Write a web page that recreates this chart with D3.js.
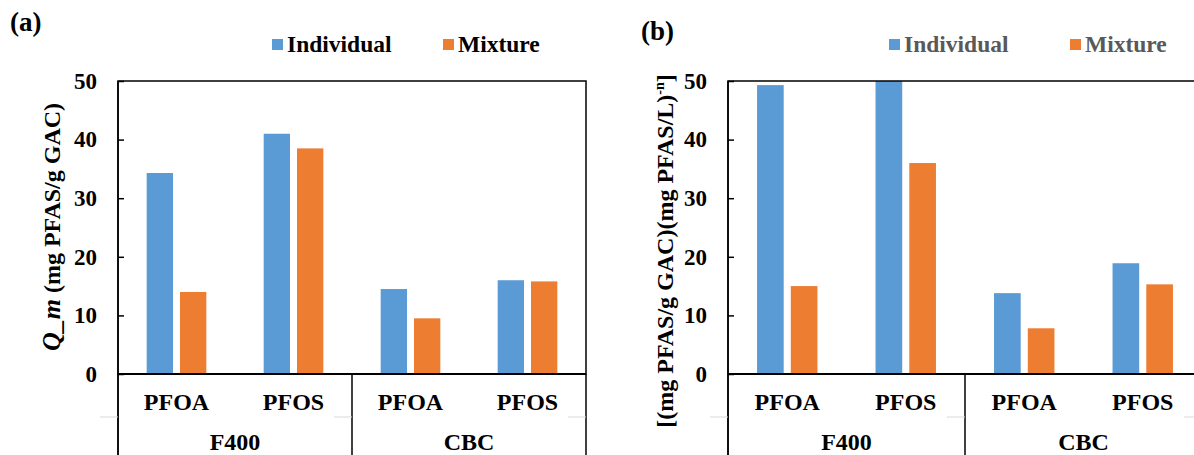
<!DOCTYPE html>
<html>
<head>
<meta charset="utf-8">
<script src="https://cdn.jsdelivr.net/npm/d3@7"></script>
<style>
  html, body { margin: 0; padding: 0; background: #fff; }
  svg { display: block; }
  svg text { font-family: "Liberation Serif", "Times New Roman", serif !important; font-weight: bold; }
</style>
</head>
<body>
<svg id="chart" width="1194" height="455"></svg>
<script>
// ---- data ----
const categories = ["PFOA", "PFOS", "PFOA", "PFOS"];
const groups = ["F400", "CBC"];
const seriesNames = ["Individual", "Mixture"];
const yTicks = [0, 10, 20, 30, 40, 50];
// panel (a): Q_m
const qmIndividual = [34.3, 41.0, 14.5, 16.0];
const qmMixture    = [14.0, 38.5, 9.5, 15.8];
// panel (b): K_F
const kfIndividual = [49.3, 50.0, 13.8, 18.9];
const kfMixture    = [15.0, 36.0, 7.8, 15.3];

const colors = { Individual: "#5b9bd5", Mixture: "#ed7d31" };
const FONT = "'Liberation Serif', 'Times New Roman', serif";

const svg = d3.select("#chart");

function panel(cfg) {
  const g = svg.append("g");
  const x0 = d3.scaleBand().domain(d3.range(categories.length)).range([cfg.left, cfg.right]).paddingInner(0).paddingOuter(0);
  const x1 = d3.scaleBand().domain(seriesNames).range([0, x0.bandwidth()]).paddingInner(0.21).paddingOuter(0.86);
  const y = d3.scaleLinear().domain([0, 50]).range([cfg.bottom, cfg.top]);

  // bars
  const vals = { Individual: cfg.ind, Mixture: cfg.mix };
  seriesNames.forEach(s => {
    g.selectAll(null).data(vals[s]).enter().append("rect")
      .attr("x", (d, i) => x0(i) + x1(s))
      .attr("y", d => y(d))
      .attr("width", x1.bandwidth())
      .attr("height", d => y(0) - y(d))
      .attr("fill", colors[s]);
  });

  // plot box
  g.append("rect").attr("x", cfg.left).attr("y", cfg.top)
    .attr("width", cfg.right - cfg.left).attr("height", cfg.bottom - cfg.top)
    .attr("fill", "none").attr("stroke", "#000").attr("stroke-width", 1.5);

  // y axis
  const yAxis = d3.axisLeft(y).tickValues(yTicks).tickSize(-6).tickPadding(21);
  const ya = g.append("g").attr("transform", `translate(${cfg.left},0)`).call(yAxis);
  ya.attr("font-family", FONT);
  ya.select(".domain").remove();
  ya.selectAll(".tick line").attr("stroke", "#000").attr("stroke-width", 1.5);
  ya.selectAll(".tick text").attr("font-size", 23).attr("fill", "#000")
    .style("font-family", FONT).style("font-weight", "bold");

  // category axis lines
  const catBottom = 460;
  g.append("line").attr("x1", cfg.left).attr("x2", cfg.left).attr("y1", cfg.top).attr("y2", catBottom)
    .attr("stroke", "#000").attr("stroke-width", 1.5);
  g.append("line").attr("x1", cfg.left).attr("x2", cfg.right).attr("y1", cfg.bottom).attr("y2", cfg.bottom)
    .attr("stroke", "#000").attr("stroke-width", 2);
  const groupEdges = [0, 2, 4].map(i => i < categories.length ? x0(i) : cfg.right);
  groupEdges.forEach(xe => {
    g.append("line").attr("x1", xe).attr("x2", xe).attr("y1", cfg.bottom).attr("y2", catBottom)
      .attr("stroke", "#000").attr("stroke-width", 1.5);
  });
  // faint separators between label rows
  groupEdges.forEach(xe => {
    g.append("line").attr("x1", xe - 18).attr("x2", xe).attr("y1", 417).attr("y2", 417)
      .attr("stroke", "#d9d9d9").attr("stroke-width", 1);
  });

  // category labels
  g.selectAll(null).data(categories).enter().append("text")
    .attr("x", (d, i) => x0(i) + x0.bandwidth() / 2)
    .attr("y", 410)
    .attr("text-anchor", "middle").attr("font-size", 24).attr("fill", "#000")
    .style("font-family", FONT).style("font-weight", "bold")
    .text(d => d);
  g.selectAll(null).data(groups).enter().append("text")
    .attr("x", (d, i) => (x0(i * 2) + (i * 2 + 2 < categories.length ? x0(i * 2 + 2) : cfg.right)) / 2)
    .attr("y", 450)
    .attr("text-anchor", "middle").attr("font-size", 24).attr("fill", "#000")
    .style("font-family", FONT).style("font-weight", "bold")
    .text(d => d);

  // legend
  seriesNames.forEach((s, i) => {
    const lx = cfg.legendX[i];
    g.append("rect").attr("x", lx).attr("y", 39).attr("width", 11).attr("height", 11).attr("fill", colors[s]);
    g.append("text").attr("x", lx + 15).attr("y", 52).attr("font-size", 23.5).attr("fill", cfg.legendColor)
      .style("font-family", FONT).style("font-weight", "bold").text(s);
  });

  // panel label
  g.append("text").attr("x", cfg.labelX).attr("y", cfg.labelY).attr("font-size", 27).attr("fill", "#000")
    .style("font-family", FONT).style("font-weight", "bold").text(cfg.label);

  return g;
}

const ga = panel({ left: 118, right: 586, top: 81, bottom: 374, ind: qmIndividual, mix: qmMixture,
  legendX: [272, 443], legendColor: "#000", label: "(a)", labelX: 10, labelY: 31 });
const gb = panel({ left: 728, right: 1202, top: 81, bottom: 374, ind: kfIndividual, mix: kfMixture,
  legendX: [889, 1070], legendColor: "#595959", label: "(b)", labelX: 641, labelY: 40 });

// y-axis titles
const ta = ga.append("text").attr("transform", "translate(60,227) rotate(-90)")
  .attr("text-anchor", "middle").attr("font-size", 24).attr("fill", "#000")
  .style("font-family", FONT).style("font-weight", "bold");
ta.append("tspan").attr("font-style", "italic").attr("font-size", 26).text("Q_m");
ta.append("tspan").text(" (mg PFAS/g GAC)");

const tb = gb.append("text").attr("transform", "translate(673,251) rotate(-90)")
  .attr("text-anchor", "middle").attr("font-size", 24).attr("fill", "#000")
  .style("font-family", FONT).style("font-weight", "bold");
tb.append("tspan").text("[(mg PFAS/g GAC)(mg PFAS/L)");
tb.append("tspan").attr("font-size", 14).attr("dy", -9).text("-n");
tb.append("tspan").attr("dy", 9).text("]");
</script>
</body>
</html>
